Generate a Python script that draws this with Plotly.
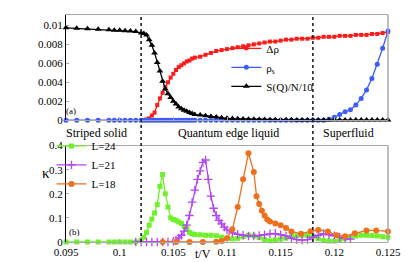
import plotly.graph_objects as go

# ---------------- data: top panel (a) ----------------
t_left = [0.095, 0.096, 0.097, 0.098, 0.099, 0.0995, 0.100, 0.1005, 0.101, 0.1015]
t_dense = [0.102, 0.10225, 0.1025, 0.10275, 0.103, 0.10325, 0.1035, 0.10375, 0.104, 0.10425,
           0.1045, 0.10475, 0.105, 0.10525, 0.1055, 0.10575, 0.106, 0.10625, 0.1065, 0.10675,
           0.107, 0.1075, 0.108, 0.1085, 0.109, 0.1095, 0.110, 0.1105, 0.111, 0.1115,
           0.112, 0.1125, 0.113, 0.1135, 0.114, 0.1145, 0.115, 0.1155, 0.116, 0.1165,
           0.117, 0.1175, 0.118, 0.1185, 0.119, 0.1195, 0.120, 0.1205, 0.121, 0.1215,
           0.122, 0.1225, 0.123, 0.1235, 0.124, 0.1245, 0.125]
t_top = t_left + t_dense

drho = [0.0, 0.00002, 0.00008, 0.0002, 0.0005, 0.0008, 0.0016, 0.0023, 0.0029, 0.0035,
        0.0040, 0.0045, 0.0049, 0.0053, 0.0056, 0.0058, 0.0060, 0.0062, 0.0063, 0.0065,
        0.0066, 0.0067, 0.0069, 0.0071, 0.0073, 0.0074, 0.0075, 0.0076, 0.0077, 0.0078,
        0.0079, 0.0080, 0.0081, 0.0082, 0.0083, 0.0083, 0.0084, 0.0085, 0.0085, 0.0086,
        0.0086, 0.0086, 0.0087, 0.0087, 0.0088, 0.0088, 0.0088, 0.0089, 0.0089, 0.0089,
        0.0090, 0.0090, 0.0090, 0.0091, 0.0091, 0.0092, 0.0093]

rhos = [0.0] * 10 + [0.0] * 45 + [0.0001, 0.0003, 0.0006, 0.0009, 0.0011, 0.0016,
                                  0.0023, 0.0032, 0.0044, 0.0059, 0.0076, 0.0094]

sq = [0.00975, 0.0097, 0.00965, 0.0096, 0.00955, 0.0095, 0.00948, 0.00945, 0.0094, 0.00935,
      0.0092, 0.00915, 0.0090, 0.0085, 0.0079, 0.0071, 0.0061, 0.0052, 0.0041, 0.0033,
      0.0028, 0.0024, 0.0020, 0.0017, 0.0014, 0.0012, 0.00105, 0.00095, 0.00082, 0.0007,
      0.0006, 0.00055, 0.00047, 0.0004, 0.00033, 0.00025, 0.0002, 0.00017, 0.00015, 0.00012,
      0.0001, 0.00009, 0.00008, 0.00007, 0.00006, 0.00005, 0.00005, 0.00004, 0.00004, 0.00003,
      0.00003, 0.00003, 0.00002, 0.00002, 0.00002, 0.00002, 0.00001, 0.00001, 0.00001, 0.00001,
      0.00001, 0.00001, 0.00001, 0.00001, 0.00001, 0.00001, 0.00001]

# ---------------- data: bottom panel (b) ----------------
t_L24 = t_left + t_dense
k_L24 = [0] * 10 + [
    0.008, 0.02, 0.04, 0.07, 0.095, 0.12, 0.155, 0.23, 0.28, 0.2,
    0.145, 0.1, 0.093, 0.09, 0.083, 0.077, 0.065, 0.055, 0.04, 0.034,
    0.031, 0.03, 0.028, 0.028, 0.026, 0.02, 0.016, 0.013, 0.015, 0.022,
    0.028, 0.025, 0.018, 0.01, 0.005, 0.008, 0.012, 0.016, 0.022, 0.026,
    0.028, 0.027, 0.022, 0.014, 0.006, 0.004, 0.004, 0.008, 0.014, 0.02,
    0.025, 0.028, 0.028, 0.027, 0.025, 0.022, 0.02]

t_L21 = [0.1015, 0.102, 0.1025, 0.103, 0.1035, 0.104, 0.1045, 0.105, 0.10525, 0.1055,
         0.10575, 0.106, 0.10625, 0.1065, 0.10675, 0.107, 0.10725, 0.1075, 0.10775, 0.108,
         0.10825, 0.1085, 0.10875, 0.109, 0.10925, 0.1095, 0.10975, 0.110, 0.1105, 0.111,
         0.1115, 0.112, 0.1125, 0.113, 0.1135, 0.114, 0.1145, 0.115, 0.1155, 0.116,
         0.1165, 0.117, 0.1175, 0.118, 0.1185, 0.119, 0.1195, 0.120, 0.1205, 0.121, 0.1215]
k_L21 = [0, 0, 0, 0, 0, 0, 0, 0.003, 0.008, 0.017,
         0.028, 0.045, 0.07, 0.11, 0.165, 0.215, 0.26, 0.295, 0.33, 0.34,
         0.26, 0.19, 0.14, 0.11, 0.09, 0.075, 0.062, 0.05, 0.038, 0.032,
         0.028, 0.025, 0.025, 0.027, 0.03, 0.034, 0.035, 0.03, 0.025, 0.016,
         0.01, 0.008, 0.01, 0.02, 0.028, 0.035, 0.03, 0.026, 0.02, 0.014, 0.012]

t_L18 = [0.104, 0.10525, 0.1065, 0.10775, 0.109, 0.1095, 0.110, 0.1105, 0.111, 0.1115,
         0.112, 0.1125, 0.11275, 0.113, 0.11325, 0.1135, 0.11375, 0.114, 0.1145, 0.115,
         0.1155, 0.116, 0.1169, 0.1178, 0.1185, 0.1194, 0.1202, 0.121, 0.1219, 0.123,
         0.1239, 0.125]
k_L18 = [0, 0, 0, 0, 0.001, 0.004, 0.016, 0.053, 0.145, 0.26,
         0.368, 0.29, 0.19, 0.158, 0.13, 0.11, 0.093, 0.085, 0.077, 0.069,
         0.058, 0.044, 0.034, 0.045, 0.05, 0.044, 0.028, 0.024, 0.036, 0.048,
         0.048, 0.044]

top_yticks = [0, 0.002, 0.004, 0.006, 0.008, 0.01]
top_ylabels = ["0", "0.002", "0.004", "0.006", "0.008", "0.01"]
bot_yticks = [0, 0.1, 0.2, 0.3, 0.4]
bot_ylabels = ["0", "0.1", "0.2", "0.3", "0.4"]
xticks = [0.095, 0.1, 0.105, 0.11, 0.115, 0.12, 0.125]
xlabels = ["0.095", "0.1", "0.105", "0.11", "0.115", "0.12", "0.125"]
phase_t = [0.102, 0.118]

FONT = "Liberation Serif, Times New Roman, Times, DejaVu Serif, serif"
RED, BLUE, BLACK = "#ff1a1a", "#3d5cff", "#000000"
GREEN, PURPLE, ORANGE = "#6ef02a", "#b245f5", "#ee6f1c"
AXG = "#a8a8a8"

fig = go.Figure()

fig.add_trace(go.Scatter(x=t_dense, y=drho, name="Δρ", mode="lines+markers",
                         line=dict(color=RED, width=1.3),
                         marker=dict(symbol="square", size=4, color=RED),
                         xaxis="x", yaxis="y", legend="legend", cliponaxis=False))
fig.add_trace(go.Scatter(x=t_top, y=rhos, name="ρ<sub>s</sub>", mode="lines+markers",
                         line=dict(color=BLUE, width=1.3),
                         marker=dict(symbol="circle", size=5, color=BLUE),
                         xaxis="x", yaxis="y", legend="legend", cliponaxis=False))
fig.add_trace(go.Scatter(x=t_top, y=sq, name="S(Q)/N/10", mode="lines+markers",
                         line=dict(color=BLACK, width=1.3),
                         marker=dict(symbol="triangle-up", size=6, color=BLACK),
                         xaxis="x", yaxis="y", legend="legend", cliponaxis=False))

fig.add_trace(go.Scatter(x=t_L24, y=k_L24, name="L=24", mode="lines+markers",
                         line=dict(color=GREEN, width=1.3),
                         marker=dict(symbol="square", size=5, color=GREEN),
                         xaxis="x2", yaxis="y2", legend="legend2", cliponaxis=False))
fig.add_trace(go.Scatter(x=t_L21, y=k_L21, name="L=21", mode="lines+markers",
                         line=dict(color=PURPLE, width=1.3),
                         marker=dict(symbol="cross-thin", size=6, color=PURPLE,
                                     line=dict(color=PURPLE, width=1.3)),
                         xaxis="x2", yaxis="y2", legend="legend2", cliponaxis=False))
fig.add_trace(go.Scatter(x=t_L18, y=k_L18, name="L=18", mode="lines+markers",
                         line=dict(color=ORANGE, width=1.3),
                         marker=dict(symbol="circle", size=6, color=ORANGE),
                         xaxis="x2", yaxis="y2", legend="legend2", cliponaxis=False))

axis_common = dict(showgrid=False, zeroline=False, ticks="inside", ticklen=3,
                   tickfont=dict(family=FONT, size=11, color="black"))

fig.update_layout(
    width=415, height=262,
    margin=dict(l=58, r=35, t=1, b=28),
    paper_bgcolor="white", plot_bgcolor="white",
    font=dict(family=FONT, size=11, color="black"),
    xaxis=dict(domain=[0, 1], range=[0.095, 0.125], anchor="y", showticklabels=False,
               tickvals=xticks, showline=True, linecolor=AXG, mirror=True, tickcolor=AXG,
               **{k: v for k, v in axis_common.items() if k != "tickfont"}),
    yaxis=dict(domain=[0.5365, 1], range=[0, 0.0111], anchor="x",
               tickvals=top_yticks, ticktext=top_ylabels, showline=True, linecolor="black",
               tickcolor=AXG, **axis_common),
    xaxis2=dict(domain=[0, 1], range=[0.095, 0.125], anchor="y2",
                tickvals=xticks, ticktext=xlabels, showline=True, linecolor=AXG, mirror=True,
                tickcolor=AXG, **axis_common),
    yaxis2=dict(domain=[0, 0.4249], range=[0, 0.4], anchor="x2",
                tickvals=bot_yticks, ticktext=bot_ylabels, showline=True, linecolor="black",
                tickcolor=AXG, **axis_common),
    legend=dict(x=0.498, y=0.917, xanchor="left", yanchor="top", bgcolor="rgba(0,0,0,0)",
                font=dict(family=FONT, size=11), tracegroupgap=0, itemwidth=30),
    legend2=dict(x=-0.045, y=0.487, xanchor="left", yanchor="top", bgcolor="rgba(0,0,0,0)",
                 font=dict(family=FONT, size=11), tracegroupgap=0, itemwidth=30),
)

# right-hand gray borders
for ya, xa in (("y", "x"), ("y2", "x2")):
    fig.add_shape(type="line", xref=f"{xa} domain", yref=f"{ya} domain",
                  x0=1, x1=1, y0=0, y1=1, line=dict(color=AXG, width=1.5))

# phase boundaries (dashed)
for t in phase_t:
    fig.add_shape(type="line", xref="x", yref="paper", x0=t, x1=t, y0=0, y1=1,
                  line=dict(color="#222222", width=1.6, dash="3px,3px"))

# phase labels
for txt, xp in (("Striped solid", 0.0978), ("Quantum edge liquid", 0.1101), ("Superfluid", 0.1213)):
    fig.add_annotation(x=xp, y=0.48, xref="x", yref="paper", text=txt, showarrow=False,
                       font=dict(family=FONT, size=12, color="black"))

fig.add_annotation(x=0.0955, y=0.001, xref="x", yref="y", text="(a)", showarrow=False,
                   font=dict(family=FONT, size=9), xanchor="center")
fig.add_annotation(x=0.0958, y=0.04, xref="x2", yref="y2", text="(b)", showarrow=False,
                   font=dict(family=FONT, size=9), xanchor="center")
fig.add_annotation(x=-0.08, y=0.26, xref="paper", yref="paper", text="κ", showarrow=False,
                   font=dict(family=FONT, size=15))
fig.add_annotation(x=0.425, y=-0.055, xref="paper", yref="paper", text="t/V", showarrow=False,
                   font=dict(family=FONT, size=12), yanchor="middle", xanchor="center")

fig.write_html("out.html")
